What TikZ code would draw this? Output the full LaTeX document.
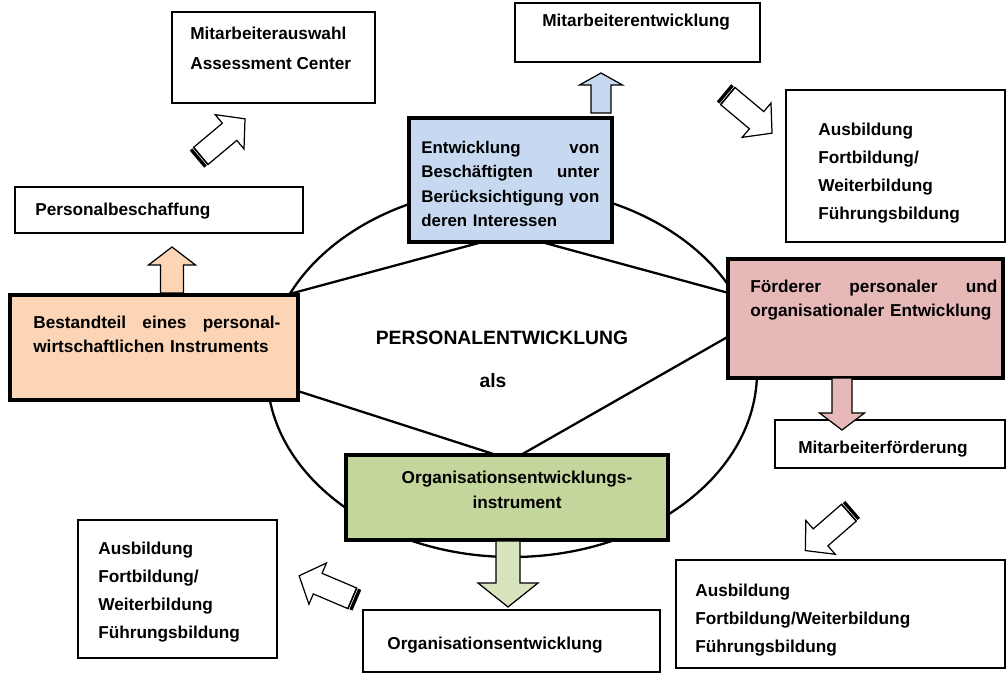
\documentclass[tikz,border=0pt]{standalone}
\usepackage{fontspec}
\setmainfont{Liberation Sans}
\usetikzlibrary{fit}
\definecolor{blaufill}{HTML}{C6D9F1}
\definecolor{orangefill}{HTML}{FBD5B5}
\definecolor{rosafill}{HTML}{E6B9B8}
\definecolor{gruenfill}{HTML}{C3D69B}
\definecolor{gruenpfeil}{HTML}{D7E4BD}
\tikzset{
    plain/.style={draw, fill=white, line width=1.1pt, inner sep=0pt},
    heavy/.style={draw, line width=2.3pt, inner sep=0pt},
    txt/.style={font=\fontsize{9.8}{15.9}\selectfont\bfseries, inner sep=0pt, align=left,
        anchor=north west, execute at begin node=\rule{0pt}{9pt}},
    tighttxt/.style={txt, font=\fontsize{9.8}{14}\selectfont\bfseries},
    ring/.style={line width=1.3pt},
    pfeil/.style={draw, line width=0.7pt, line join=miter},
}
% block arrow: center, angle, length, shaft half width, head half width, head length, fill
\newcommand\blockpfeil[7]{%
    \begin{scope}[shift={#1}, rotate=#2]
        \filldraw[pfeil, fill=#7] (-#3/2,-#4) -- (#3/2-#6,-#4) -- (#3/2-#6,-#5) -- (#3/2,0)
            -- (#3/2-#6,#5) -- (#3/2-#6,#4) -- (-#3/2,#4) -- cycle;
    \end{scope}}
% striped arrow: center, angle
\newcommand\streifenpfeil[2]{%
    \begin{scope}[shift={#1}, rotate=#2, scale=1.12]
        \filldraw[pfeil, fill=white] (-23.5,-10) -- (10,-10) -- (10,-20) -- (28,0)
            -- (10,20) -- (10,10) -- (-23.5,10) -- cycle;
        \fill (-28,-10) rectangle (-25,10);
        \fill (-24.2,-10) rectangle (-23,10);
    \end{scope}}
\begin{document}
\begin{tikzpicture}[x=0.02cm,y=-0.02cm]
    \useasboundingbox (0,0) rectangle (1008,682);

    % ring and diamond behind the boxes
    \draw[ring] (512,372) ellipse [x radius=245, y radius=185];
    \coordinate (dl) at (130,337);
    \coordinate (dt) at (512,234);
    \coordinate (dr) at (780,307);
    \coordinate (db) at (512,460);
    \draw[ring] (dl) -- (dt) -- (dr) -- (db) -- cycle;
    \node[font=\fontsize{11}{13}\selectfont\bfseries] (titel) at (502,338) {PERSONALENTWICKLUNG};
    \node[font=\fontsize{11}{13}\selectfont\bfseries] (als) at (493,381) {als};

    % four main boxes
    \node[heavy, fill=blaufill, fit={(409,118) (612,242)}] (blau) {};
    \node[tighttxt, font=\fontsize{9.6}{14}\selectfont\bfseries, text width={178*0.02cm}] (blautext) at (421,137)
        {Entwicklung\hfill von\\Beschäftigten\hfill unter\\Berücksichtigung\hfill von\\deren Interessen};
    \node[heavy, fill=orangefill, fit={(10,295) (298,400)}] (orange) {};
    \node[tighttxt, text width={247*0.02cm}] (orangetext) at (33,312)
        {Bestandteil\hfill eines\hfill personal-\\wirtschaftlichen Instruments};
    \node[heavy, fill=rosafill, fit={(728,259) (1003,378)}] (rosa) {};
    \node[tighttxt, text width={247*0.02cm}] (rosatext) at (750,276)
        {Förderer\hfill personaler\hfill und\\organisationaler Entwicklung};
    \node[heavy, fill=gruenfill, fit={(346,455) (668,540)}] (gruen) {};
    \node[tighttxt, align=center, anchor=north] (gruentext) at (517,471)
        {Organisationsentwicklungs-\\instrument};

    % white boxes
    \node[plain, fit={(172,12) (375,103)}] (auswahl) {};
    \node[txt, font=\fontsize{9.8}{17}\selectfont\bfseries] (auswahltext) at (190,27)
        {Mitarbeiterauswahl\\Assessment Center};
    \node[plain, fit={(515,3) (760,62)}] (entw) {};
    \node[txt] (entwtext) at (542,10) {Mitarbeiterentwicklung};
    \node[plain, fit={(786,90) (1005,242)}] (bildungA) {};
    \node[txt] (bildungAtext) at (818,123)
        {Ausbildung\\Fortbildung/\\Weiterbildung\\Führungsbildung};
    \node[plain, fit={(15,187) (303,233)}] (beschaffung) {};
    \node[txt] (beschaffungtext) at (35,199) {Personalbeschaffung};
    \node[plain, fit={(775,420) (1005,468)}] (foerderung) {};
    \node[txt] (foerderungtext) at (798,437) {Mitarbeiterförderung};
    \node[plain, fit={(676,560) (1005,668)}] (bildungB) {};
    \node[txt] (bildungBtext) at (695,584)
        {Ausbildung\\Fortbildung/Weiterbildung\\Führungsbildung};
    \node[plain, fit={(78,520) (277,658)}] (bildungC) {};
    \node[txt] (bildungCtext) at (98,542)
        {Ausbildung\\Fortbildung/\\Weiterbildung\\Führungsbildung};
    \node[plain, fit={(363,610) (660,672)}] (orgentw) {};
    \node[txt] (orgentwtext) at (387,633) {Organisationsentwicklung};

    % arrows
    \blockpfeil{(172,270)}{90}{46}{11.5}{23.5}{18}{orangefill}
    \blockpfeil{(601,93)}{90}{40}{10}{21.5}{12}{blaufill}
    \blockpfeil{(842,404)}{-90}{52}{10}{22.5}{17}{rosafill}
    \blockpfeil{(508,574)}{-90}{66}{12}{30}{24}{gruenpfeil}
    \streifenpfeil{(221,139)}{40}
    \streifenpfeil{(748,113)}{-40}
    \streifenpfeil{(328,588)}{157}
    \streifenpfeil{(829,530)}{221}
\end{tikzpicture}
\end{document}
